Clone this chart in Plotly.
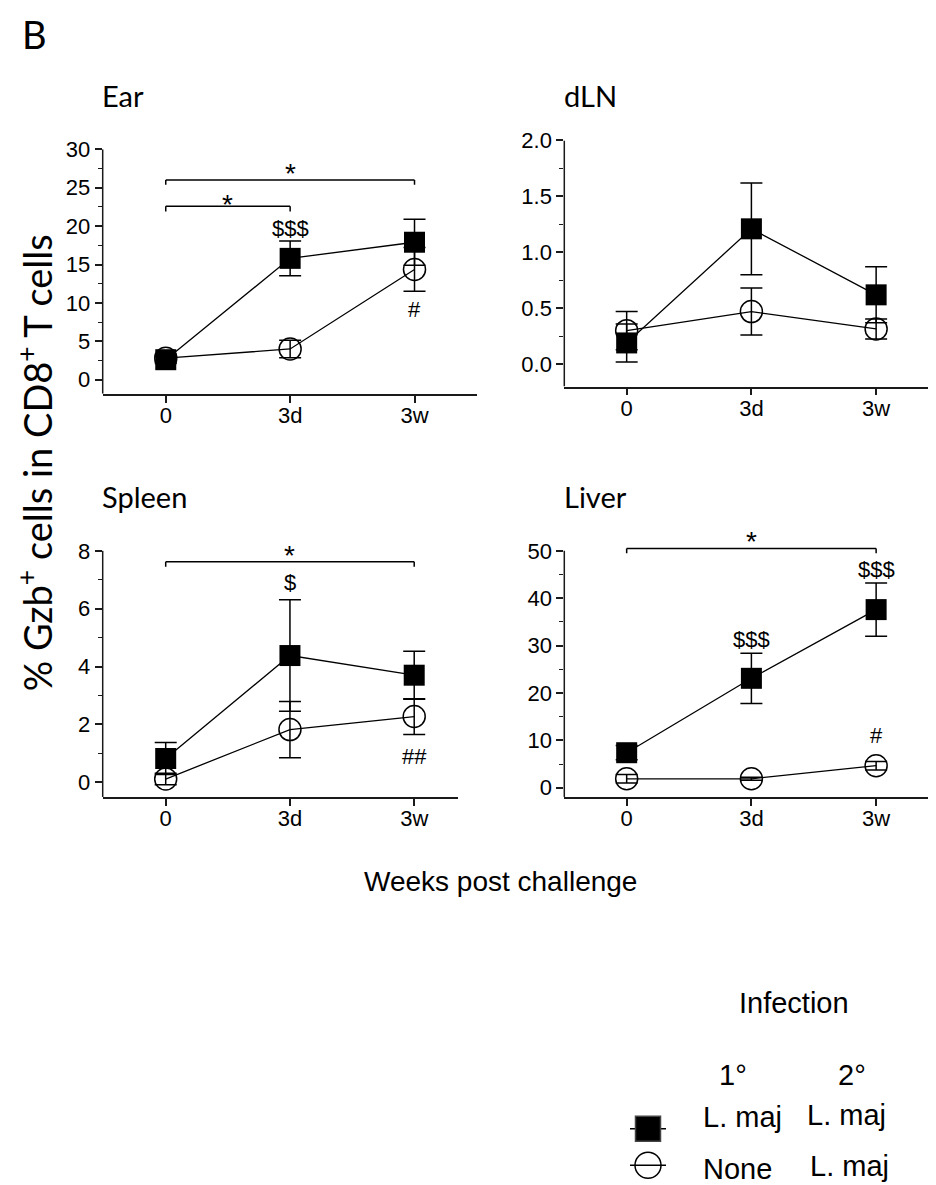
import plotly.graph_objects as go

# page content is offset by the default 8px body margin
OFF = 8
W, H = 936 - OFF, 1185 - OFF

# ---------------- data ----------------
x_cats = [0, 1, 2]
x_labels = ["0", "3d", "3w"]

ear_sq = [2.6, 15.8, 17.9]
ear_sq_err = [0.5, 2.25, 3.0]
ear_ci = [2.8, 4.0, 14.35]
ear_ci_err = [0.5, 1.15, 2.85]

dln_sq = [0.19, 1.21, 0.62]
dln_sq_err = [0.17, 0.41, 0.25]
dln_ci = [0.30, 0.47, 0.315]
dln_ci_err = [0.17, 0.21, 0.09]

spl_sq = [0.82, 4.38, 3.70]
spl_sq_err = [0.55, 1.93, 0.83]
spl_ci = [0.11, 1.82, 2.27]
spl_ci_err = [0.2, 0.97, 0.62]

liv_sq = [7.4, 23.1, 37.6]
liv_sq_err = [1.5, 5.3, 5.6]
liv_ci = [1.9, 1.9, 4.66]
liv_ci_err = [0.9, 0.3, 0.9]

# significance brackets: (panel, x0, x1, bracket y, tick end y, star y)
brackets = [
    (1, 0, 2, 26.0, 25.4, 27.9),
    (1, 0, 1, 22.6, 21.9, 23.85),
    (3, 0, 2, 7.62, 7.45, 8.13),
    (4, 0, 2, 50.5, 49.5, 53.6),
]
# other marks: (panel, x, y, text)
marks = [
    (1, 1, 19.8, "$$$"),
    (1, 2, 9.3, "#"),
    (3, 1, 6.94, "$"),
    (3, 2, 0.91, "##"),
    (4, 1, 31.4, "$$$"),
    (4, 2, 46.3, "$$$"),
    (4, 2, 11.25, "#"),
]

panels = [
    ("Ear", ear_sq, ear_sq_err, ear_ci, ear_ci_err),
    ("dLN", dln_sq, dln_sq_err, dln_ci, dln_ci_err),
    ("Spleen", spl_sq, spl_sq_err, spl_ci, spl_ci_err),
    ("Liver", liv_sq, liv_sq_err, liv_ci, liv_ci_err),
]

# ---------------- layout geometry (reference pixels) ----------------
def px_x(p):
    return min(max((p - OFF) / W, 0), 1)

def px_y(p):
    return min(max(1 - (p - OFF) / H, 0), 1)

# xd: x-axis extent px; yb: x-axis line px; yt: px of the top tick; r0: value at x-axis line;
# top: top tick value; head: headroom (value units) above the top tick for brackets/stars
geom = {
    1: dict(xd=(102.7, 476.7), yb=386.7, yt=139.0, xr=[-0.507, 2.50], r0=-1.85, top=30, head=0, dt=5, mdt=2.5, fmt="d"),
    2: dict(xd=(564.3, 936.0), yb=379.3, yt=130.0, xr=[-0.50, 2.48], r0=-0.2, top=2.0, head=0, dt=0.5, mdt=0.25, fmt=".1f"),
    3: dict(xd=(102.7, 457.7), yb=795.0, yt=545.7, xr=[-0.507, 2.35], r0=-0.51, top=8, head=1.0, dt=2, mdt=1, fmt="d"),
    4: dict(xd=(564.3, 936.0), yb=795.0, yt=545.7, xr=[-0.50, 2.48], r0=-1.94, top=50, head=6.0, dt=10, mdt=5, fmt="d"),
}
title_pos = {1: (100, 84), 2: (562, 84), 3: (100, 491), 4: (562, 491)}

AXC = "#1a1a1a"
ARIAL = "Liberation Sans, Arial"
CAL = "Lato, Carlito, Calibri"
TICKFONT = dict(family=ARIAL, size=22, color="black")

fig = go.Figure()
layout = dict(
    width=W, height=H, margin=dict(l=0, r=0, t=0, b=0),
    paper_bgcolor="white", plot_bgcolor="white", showlegend=False,
)
annotations = []
shapes = []

def frange(a, b, step):
    out = []
    k = 0
    while a + k * step <= b + 1e-9:
        out.append(round(a + k * step, 6))
        k += 1
    return out

for i, (title, sq, sqe, ci, cie) in enumerate(panels, start=1):
    g = geom[i]
    xa = "x" if i == 1 else f"x{i}"
    ya = "y" if i == 1 else f"y{i}"
    xkey = "xaxis" if i == 1 else f"xaxis{i}"
    ykey = "yaxis" if i == 1 else f"yaxis{i}"
    ppu = (g["yb"] - g["yt"]) / (g["top"] - g["r0"])
    dom_top_px = g["yt"] - g["head"] * ppu
    major = frange(0, g["top"], g["dt"])
    minor = [v for v in frange(0, g["top"], g["mdt"]) if v not in major]
    layout[xkey] = dict(
        domain=[px_x(g["xd"][0]), px_x(g["xd"][1])], range=g["xr"], anchor=ya,
        tickmode="array", tickvals=x_cats, ticktext=x_labels,
        ticks="outside", ticklen=7, tickwidth=1.5, tickcolor=AXC,
        showline=True, linewidth=1.5, linecolor=AXC,
        showgrid=False, zeroline=False, tickfont=TICKFONT, fixedrange=True,
        ticklabelstandoff=-6,
    )
    layout[ykey] = dict(
        domain=[px_y(g["yb"]), px_y(dom_top_px)], range=[g["r0"], g["top"] + g["head"]], anchor=xa,
        tickmode="array", tickvals=major, tickformat=g["fmt"],
        ticks="outside", ticklen=7, tickwidth=1.5, tickcolor=AXC,
        minor=dict(tickmode="array", tickvals=minor, ticks="outside", ticklen=4, tickwidth=1.2, tickcolor=AXC),
        showline=False, showgrid=False, zeroline=False, tickfont=TICKFONT, fixedrange=True,
    )
    # y-axis line only up to the top tick
    shapes.append(dict(type="line", xref=f"{xa} domain", yref=ya, x0=0, x1=0, y0=g["r0"], y1=g["top"],
                       line=dict(color=AXC, width=1.5)))
    # circles first (drawn below squares)
    fig.add_trace(go.Scatter(
        x=x_cats, y=ci, xaxis=xa, yaxis=ya, mode="lines+markers",
        line=dict(color="black", width=1.3),
        marker=dict(symbol="circle-open", size=22, color="black", line=dict(width=1.5)),
        error_y=dict(type="data", array=cie, visible=True, color="black", thickness=1.5, width=11),
        cliponaxis=False,
    ))
    fig.add_trace(go.Scatter(
        x=x_cats, y=sq, xaxis=xa, yaxis=ya, mode="lines+markers",
        line=dict(color="black", width=1.3),
        marker=dict(symbol="square", size=21, color="black"),
        error_y=dict(type="data", array=sqe, visible=True, color="black", thickness=1.5, width=11),
        cliponaxis=False,
    ))
    tx, ty = title_pos[i]
    annotations.append(dict(
        text=title, xref="paper", yref="paper", x=px_x(tx), y=px_y(ty),
        xanchor="left", yanchor="middle", showarrow=False,
        font=dict(family=CAL, size=29, color="black"),
    ))

# brackets drawn as line shapes in data coordinates
for (p, x0, x1, yb, yt, ys) in brackets:
    xa = "x" if p == 1 else f"x{p}"
    ya = "y" if p == 1 else f"y{p}"
    for (a, b) in [((x0, yb), (x1, yb)), ((x0, yb), (x0, yt)), ((x1, yb), (x1, yt))]:
        shapes.append(dict(type="line", xref=xa, yref=ya, x0=a[0], y0=a[1], x1=b[0], y1=b[1],
                           line=dict(color="black", width=1.5)))
    annotations.append(dict(
        text="*", x=(x0 + x1) / 2, y=ys, xref=xa, yref=ya, showarrow=False,
        xanchor="center", yanchor="middle", yshift=-8,
        font=dict(family=ARIAL, size=28, color="black"),
    ))

for (p, x, y, t) in marks:
    xa = "x" if p == 1 else f"x{p}"
    ya = "y" if p == 1 else f"y{p}"
    annotations.append(dict(
        text=t, x=x, y=y, xref=xa, yref=ya, showarrow=False,
        xanchor="center", yanchor="middle", yshift=-1,
        font=dict(family=ARIAL, size=22, color="black"),
    ))

# figure-level texts
annotations += [
    dict(text="B", xref="paper", yref="paper", x=px_x(20), y=px_y(22), xanchor="left", yanchor="middle",
         showarrow=False, font=dict(family=CAL, size=38, color="black")),
    dict(text="% Gzb<sup>+</sup> cells in CD8<sup>+</sup> T cells", xref="paper", yref="paper",
         x=px_x(35), y=px_y(457), xanchor="center", yanchor="middle", textangle=-90,
         showarrow=False, font=dict(family=CAL, size=38, color="black")),
    dict(text="Weeks post challenge", xref="paper", yref="paper", x=px_x(500), y=px_y(881),
         xanchor="center", yanchor="middle", showarrow=False, font=dict(family=ARIAL, size=28, color="black")),
]

# ---------------- legend (manual) ----------------
legend_title = "Infection"
legend_cols = ["1°", "2°"]
legend_rows = [("L. maj", "L. maj"), ("None", "L. maj")]

LF = dict(family=ARIAL, size=29, color="black")
def ltext(t, x, y, xanchor):
    return dict(text=t, xref="paper", yref="paper", x=px_x(x), y=px_y(y), xanchor=xanchor,
                yanchor="middle", showarrow=False, font=LF)

annotations += [
    ltext(legend_title, 794, 1004, "center"),
    ltext(legend_cols[0], 733, 1077, "center"),
    ltext(legend_cols[1], 852, 1077, "center"),
    ltext(legend_rows[0][0], 701, 1119, "left"),
    ltext(legend_rows[0][1], 805, 1117, "left"),
    ltext(legend_rows[1][0], 701, 1172, "left"),
    ltext(legend_rows[1][1], 808, 1169, "left"),
]

# legend glyphs on a hidden axis pair: rows at y=1 (px 1131) and y=0 (px 1168), 37 px apart
leg_top_px, leg_bot_px = 1094, 1185
layout["xaxis5"] = dict(domain=[px_x(630), px_x(666)], range=[0, 1], visible=False, anchor="y5", fixedrange=True)
layout["yaxis5"] = dict(domain=[px_y(leg_bot_px), px_y(leg_top_px)],
                        range=[-(leg_bot_px - 1168) / 37, (1168 - leg_top_px) / 37],
                        visible=False, anchor="x5", fixedrange=True)
legend_row_y = [1, 0]
legend_symbols = [("square", 25), ("circle-open", 26)]
for ry, (sym, sz) in zip(legend_row_y, legend_symbols):
    fig.add_trace(go.Scatter(x=[0, 1], y=[ry, ry], xaxis="x5", yaxis="y5", mode="lines",
                             line=dict(color="black", width=1.5), cliponaxis=False))
    fig.add_trace(go.Scatter(x=[0.5], y=[ry], xaxis="x5", yaxis="y5", mode="markers",
                             marker=dict(symbol=sym, size=sz, color="black", line=dict(width=1.5)),
                             cliponaxis=False))

layout["annotations"] = annotations
layout["shapes"] = shapes
fig.update_layout(**layout)
fig.write_html("out.html")
